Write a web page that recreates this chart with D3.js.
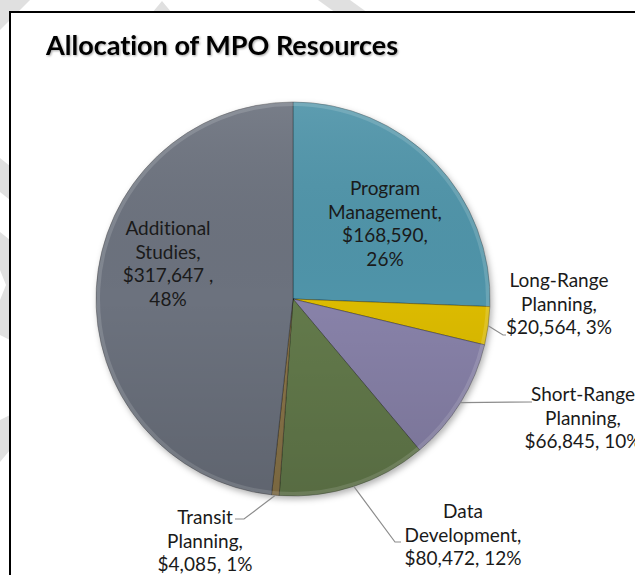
<!DOCTYPE html>
<html>
<head>
<meta charset="utf-8">
<script src="https://cdn.jsdelivr.net/npm/d3@7"></script>
<style>
  body { margin: 0; background: #fff; }
  svg { display: block; }
  text { font-variant-ligatures: none; }
</style>
</head>
<body>
<div id="chart"></div>
<script>
// chart data
const categories = ["Program Management", "Long-Range Planning", "Short-Range Planning",
                    "Data Development", "Transit Planning", "Additional Studies"];
const amounts = [168590, 20564, 66845, 80472, 4085, 317647];
const labelLines = [
    ["Program", "Management,", "$168,590,", "26%"],
    ["Long-Range", "Planning,", "$20,564, 3%"],
    ["Short-Range", "Planning,", "$66,845, 10%"],
    ["Data", "Development,", "$80,472, 12%"],
    ["Transit", "Planning,", "$4,085, 1%"],
    ["Additional", "Studies,", "$317,647 ,", "48%"]
];
const colors = ["#4f94a9", "#dcbb02", "#8882a9", "#637a4b", "#8a7548", "#6c727e"];

class PieVis {
    constructor(parentElement) {
        this.parentElement = parentElement;
        this.initVis();
    }

    initVis() {
        let vis = this;
        vis.width = 635;
        vis.height = 575;
        vis.cx = 293;
        vis.cy = 299;
        vis.r = 197;

        vis.svg = d3.select("#" + vis.parentElement).append("svg")
            .attr("width", vis.width)
            .attr("height", vis.height);

        let defs = vis.svg.append("defs");
        defs.append("filter").attr("id", "shadow")
            .attr("x", "-10%").attr("y", "-10%").attr("width", "120%").attr("height", "120%")
            .append("feDropShadow")
            .attr("dx", 2).attr("dy", 3).attr("stdDeviation", 3)
            .attr("flood-color", "#000").attr("flood-opacity", 0.3);
        defs.append("filter").attr("id", "tshadow")
            .append("feDropShadow")
            .attr("dx", 1).attr("dy", 1).attr("stdDeviation", 0.8)
            .attr("flood-color", "#000").attr("flood-opacity", 0.35);

        let shade = defs.append("linearGradient").attr("id", "shade")
            .attr("x1", 0).attr("y1", 0).attr("x2", 0).attr("y2", 1);
        shade.append("stop").attr("offset", "0%").attr("stop-color", "#fff").attr("stop-opacity", 0.08);
        shade.append("stop").attr("offset", "50%").attr("stop-color", "#000").attr("stop-opacity", 0.0);
        shade.append("stop").attr("offset", "100%").attr("stop-color", "#000").attr("stop-opacity", 0.12);

        // faint watermark shapes behind the chart box
        const marks = [
            [[0, 0], [30, 0], [0, 30]],
            [[152, 13], [162, 1], [172, 13]],
            [[318, 0], [350, 0], [368, 13], [336, 13]],
            [[0, 158], [10, 166], [10, 200], [0, 192]],
            [[0, 232], [10, 240], [10, 340], [0, 335], [0, 300], [6, 285], [0, 270]],
            [[0, 420], [10, 415], [10, 450], [0, 462]]
        ];
        vis.svg.selectAll(".wm").data(marks).enter().append("polygon")
            .attr("class", "wm")
            .attr("points", d => d.map(p => p.join(",")).join(" "))
            .attr("fill", "#e0e0e0");

        // chart frame
        vis.svg.append("rect")
            .attr("x", 10).attr("y", 12)
            .attr("width", 700).attr("height", 700)
            .attr("fill", "#fff")
            .attr("stroke", "#000")
            .attr("stroke-width", 2);

        vis.svg.append("text")
            .attr("x", 46).attr("y", 55)
            .attr("font-family", "Lato, 'Open Sans', sans-serif")
            .attr("font-weight", "bold")
            .attr("font-size", 27)
            .attr("fill", "#000")
            .attr("filter", "url(#tshadow)")
            .text("Allocation of MPO Resources");

        vis.g = vis.svg.append("g")
            .attr("transform", `translate(${vis.cx},${vis.cy})`);

        vis.updateVis();
    }

    updateVis() {
        let vis = this;

        let data = categories.map((c, i) => ({ category: c, amount: amounts[i], lines: labelLines[i], color: colors[i] }));

        let pie = d3.pie().sort(null).value(d => d.amount);
        let arcs = pie(data);

        let arc = d3.arc().innerRadius(0).outerRadius(vis.r);
        let rim = d3.arc().innerRadius(vis.r - 4).outerRadius(vis.r);

        let slices = vis.g.append("g").attr("filter", "url(#shadow)");
        slices.selectAll(".slice")
            .data(arcs)
            .enter()
            .append("path")
            .attr("class", "slice")
            .attr("d", arc)
            .attr("fill", d => d.data.color)
            .attr("stroke", "rgba(0,0,0,0.3)")
            .attr("stroke-width", 1);

        // rim highlight for the bevel look
        vis.g.selectAll(".rim")
            .data(arcs)
            .enter()
            .append("path")
            .attr("class", "rim")
            .attr("d", rim)
            .attr("fill", "#fff")
            .attr("opacity", 0.15);

        vis.g.append("circle")
            .attr("r", vis.r)
            .attr("fill", "url(#shade)")
            .attr("pointer-events", "none");

        // label layout: x, y of first baseline, leader end points
        const layout = [
            { x: 385, y: 195 },
            { x: 559, y: 287, leader: [[503, 335], [506, 335]] },
            { x: 583, y: 401, leader: [[532, 402]] },
            { x: 463, y: 518, leader: [[395, 542], [401, 542]] },
            { x: 205, y: 524, leader: [[244, 519], [235, 519]] },
            { x: 168, y: 235 }
        ];
        const lineH = 23.7;

        arcs.forEach((a, i) => {
            let L = layout[i];
            if (L.leader) {
                let mid = (a.startAngle + a.endAngle) / 2;
                let p0 = [vis.cx + vis.r * Math.sin(mid), vis.cy - vis.r * Math.cos(mid)];
                let pts = [p0].concat(L.leader);
                vis.svg.append("path")
                    .attr("d", d3.line()(pts))
                    .attr("fill", "none")
                    .attr("stroke", "#8c8c8c")
                    .attr("stroke-width", 1.2);
            }
            let t = vis.svg.append("text")
                .attr("font-family", "Lato, 'Open Sans', sans-serif")
                .attr("font-size", 19)
                .attr("fill", "#1a1a1a")
                .attr("text-anchor", "middle");
            a.data.lines.forEach((ln, k) => {
                t.append("tspan")
                    .attr("x", L.x)
                    .attr("y", L.y + k * lineH)
                    .text(ln);
            });
        });
    }
}

new PieVis("chart");
</script>
</body>
</html>
